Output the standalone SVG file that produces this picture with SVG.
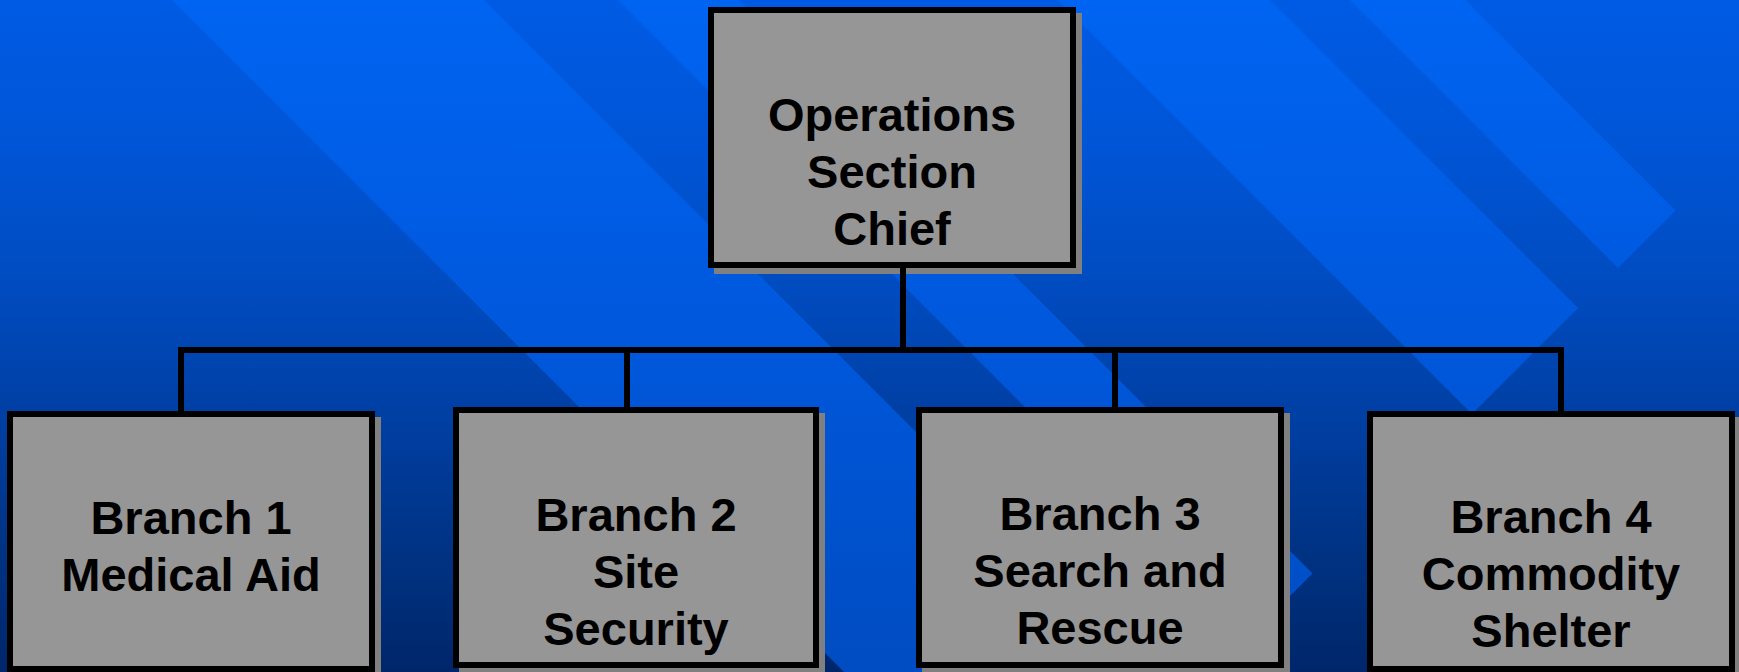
<svg xmlns="http://www.w3.org/2000/svg" width="1739" height="672" viewBox="0 0 1739 672">
  <defs>
    <linearGradient id="bg" gradientUnits="userSpaceOnUse" x1="0" y1="0" x2="0" y2="672">
      <stop offset="0" stop-color="#005BE4"/>
      <stop offset="0.22" stop-color="#0055D6"/>
      <stop offset="0.45" stop-color="#004ABD"/>
      <stop offset="0.67" stop-color="#003C9C"/>
      <stop offset="0.83" stop-color="#003282"/>
      <stop offset="1" stop-color="#00266A"/>
    </linearGradient>
    <linearGradient id="band" gradientUnits="userSpaceOnUse" x1="0" y1="0" x2="0" y2="672">
      <stop offset="0" stop-color="#0064F2"/>
      <stop offset="0.45" stop-color="#0059DE"/>
      <stop offset="1" stop-color="#004CC2"/>
    </linearGradient>
    <style>
      .band { fill: url(#band); }
      .shadow { fill: #808080; }
      .box { fill: #969696; stroke: #000000; stroke-width: 6; }
      .label { font-family: "Liberation Sans", Arial, sans-serif; font-weight: bold; font-size: 47px; fill: #000000; text-anchor: middle; }
      .conn { stroke: #000000; stroke-width: 6; fill: none; stroke-linecap: square; }
    </style>
  </defs>

  <g id="background">
    <rect x="0" y="0" width="1739" height="672" fill="url(#bg)"/>
    <polygon class="band" points="172,0 484,0 1156,672 844,672"/>
    <polygon class="band" points="618,0 739,0 1312.5,573.5 1252,634"/>
    <polygon class="band" points="1058,0 1270,0 1578,308 1472,414"/>
    <polygon class="band" points="1350,0 1465,0 1675.5,210.5 1618,268"/>
  </g>

  <g id="node-ops-chief">
    <rect class="shadow" x="714" y="13" width="368" height="261"/>
    <rect class="box" x="711" y="10" width="362" height="255"/>
    <text class="label" x="892" y="131">Operations</text>
    <text class="label" x="892" y="188">Section</text>
    <text class="label" x="892" y="245">Chief</text>
  </g>

  <g id="node-branch1">
    <rect class="shadow" x="13" y="417" width="368" height="261"/>
    <rect class="box" x="10" y="414" width="362" height="255"/>
    <text class="label" x="191" y="534">Branch 1</text>
    <text class="label" x="191" y="591">Medical Aid</text>
  </g>

  <g id="node-branch2">
    <rect class="shadow" x="459" y="413" width="366" height="261"/>
    <rect class="box" x="456" y="410" width="360" height="255"/>
    <text class="label" x="636" y="531">Branch 2</text>
    <text class="label" x="636" y="588">Site</text>
    <text class="label" x="636" y="645">Security</text>
  </g>

  <g id="node-branch3">
    <rect class="shadow" x="922" y="413" width="368" height="261"/>
    <rect class="box" x="919" y="410" width="362" height="255"/>
    <text class="label" x="1100" y="530">Branch 3</text>
    <text class="label" x="1100" y="587">Search and</text>
    <text class="label" x="1100" y="644">Rescue</text>
  </g>

  <g id="node-branch4">
    <rect class="shadow" x="1373" y="417" width="368" height="261"/>
    <rect class="box" x="1370" y="414" width="362" height="255"/>
    <text class="label" x="1551" y="533">Branch 4</text>
    <text class="label" x="1551" y="590">Commodity</text>
    <text class="label" x="1551" y="647">Shelter</text>
  </g>

  <g id="connectors">
    <line class="conn" x1="903" y1="268" x2="903" y2="350"/>
    <line class="conn" x1="181" y1="350" x2="1561" y2="350"/>
    <line class="conn" x1="181" y1="350" x2="181" y2="411"/>
    <line class="conn" x1="627" y1="350" x2="627" y2="407"/>
    <line class="conn" x1="1115" y1="350" x2="1115" y2="407"/>
    <line class="conn" x1="1561" y1="350" x2="1561" y2="411"/>
  </g>
</svg>
